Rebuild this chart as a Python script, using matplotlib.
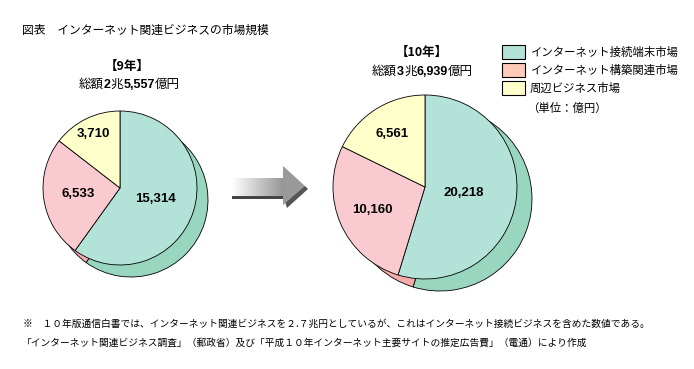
import matplotlib

matplotlib.use("Agg")
import matplotlib.pyplot as plt
import numpy as np
from matplotlib.patches import Polygon, Rectangle

plt.rcParams["font.family"] = ["Noto Sans CJK JP", "DejaVu Sans"]

W, H = 694, 369

categories = ["インターネット接続端末市場", "インターネット構築関連市場", "周辺ビジネス市場"]
values_h9 = [15314, 6533, 3710]
values_h10 = [20218, 10160, 6561]
labels_h9 = ["15,314", "6,533", "3,710"]
labels_h10 = ["20,218", "10,160", "6,561"]
year_h9 = "【9年】"
year_h10 = "【10年】"
total_h9 = ["総額", "2", "兆", "5,557", "億円"]
total_h10 = ["総額", "3", "兆", "6,939", "億円"]

colors = ["#b3e3d8", "#f9cbd0", "#ffffcc"]
shadow_colors = ["#99d6c0", "#f4aaa8", "#e6e6a8"]
legend_colors = ["#b3e3d8", "#ffcbb8", "#ffffcc"]

fig = plt.figure(figsize=(W / 100, H / 100), dpi=100)
ax = fig.add_axes([0, 0, 1, 1])


def Y(y):
    return H - y


def draw_pie(values, labels, cx, cy, r, shift, label_r):
    ax.pie(values, colors=shadow_colors, startangle=90, counterclock=False,
           center=(cx + shift[0], Y(cy + shift[1])), radius=r, frame=True,
           wedgeprops=dict(edgecolor="black", linewidth=0.6))
    wedges, _ = ax.pie(values, colors=colors, startangle=90, counterclock=False,
                       center=(cx, Y(cy)), radius=r, frame=True,
                       wedgeprops=dict(edgecolor="black", linewidth=0.6))
    for w, lab, lr in zip(wedges, labels, label_r):
        mid = np.deg2rad((w.theta1 + w.theta2) / 2)
        ax.text(cx + lr * r * np.cos(mid), Y(cy) + lr * r * np.sin(mid), lab,
                ha="center", va="center", fontsize=9.5, fontweight="bold",
                family="Liberation Sans")


def chain_text(parts, x, y, size=9):
    prev = None
    for i, p in enumerate(parts):
        bold = any(c.isdigit() for c in p)
        kw = dict(fontsize=size, ha="left", va="baseline")
        if bold:
            kw.update(fontweight="bold", family="Liberation Sans")
        if prev is None:
            prev = ax.text(x, Y(y), p, **kw)
        else:
            prev = ax.annotate(p, xy=(1, Y(y)), xycoords=(prev, "data"), **kw)


draw_pie(values_h9, labels_h9, 120, 188, 77, (11, 12), [0.48, 0.55, 0.78])
draw_pie(values_h10, labels_h10, 425, 187, 92, (15, 12), [0.42, 0.62, 0.68])

# titles above pies
ax.text(127, Y(66), year_h9, ha="center", va="center", fontsize=9, fontweight="bold")
chain_text(total_h9, 79, 88)
ax.text(422, Y(52), year_h10, ha="center", va="center", fontsize=9, fontweight="bold")
chain_text(total_h10, 372, 75)

# arrow with gradient shaft
grad = np.linspace(1.0, 0.58, 256).reshape(1, -1)
ax.add_patch(Polygon([(283, Y(196)), (287, Y(208)), (308, Y(189)), (305, Y(186))],
                     closed=True, facecolor="#555555", edgecolor="none"))
ax.add_patch(Rectangle((232, Y(199)), 52, 3, facecolor="#444444", edgecolor="none"))
ax.imshow(grad, cmap="gray", vmin=0, vmax=1, extent=(232, 284, Y(196), Y(178)),
          aspect="auto", zorder=3)
ax.add_patch(Polygon([(283, Y(166)), (283, Y(205)), (305, Y(186))], closed=True,
                     facecolor="#999999", edgecolor="none", zorder=3))

# legend
for i, (cat, col) in enumerate(zip(categories, legend_colors)):
    top = 45 + i * 18
    ax.add_patch(Rectangle((502, Y(top + 14)), 23, 14, facecolor=col,
                           edgecolor="black", linewidth=0.8))
    ax.text(530, Y(top + 7), cat, ha="left", va="center", fontsize=8.2)
ax.text(527, Y(108), "（単位：億円）", ha="left", va="center", fontsize=8.2)

# title and notes
ax.text(22, Y(30), "図表　インターネット関連ビジネスの市場規模", ha="left", va="center", fontsize=8.5)
ax.text(23, Y(324), "※　１０年版通信白書では、インターネット関連ビジネスを２.７兆円としているが、"
        "これはインターネット接続ビジネスを含めた数値である。",
        ha="left", va="center", fontsize=7)
ax.text(22, Y(343), "「インターネット関連ビジネス調査」（郵政省）及び「平成１０年インターネット"
        "主要サイトの推定広告費」（電通）により作成",
        ha="left", va="center", fontsize=7)

ax.set_xlim(0, W)
ax.set_ylim(0, H)
ax.set_aspect("auto")
ax.axis("off")

fig.savefig("out.png", dpi=100)
